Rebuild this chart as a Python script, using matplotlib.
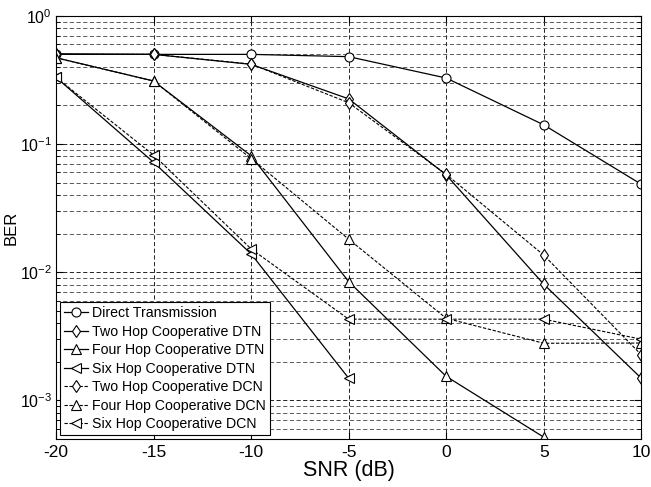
import matplotlib
matplotlib.use("Agg")
import matplotlib.pyplot as plt
from matplotlib.ticker import LogLocator, NullFormatter

plt.rcParams['font.family'] = ['Liberation Sans', 'DejaVu Sans']
plt.rcParams['axes.unicode_minus'] = False

# ---- data ----
snr = [-20, -15, -10, -5, 0, 5, 10]

direct = [0.505, 0.5, 0.5, 0.48, 0.327, 0.141, 0.0485]

two_dtn = [0.5, 0.5, 0.418, 0.225, 0.0574, 0.00806, 0.00149]
four_dtn = [0.471, 0.31, 0.081, 0.00845, 0.00154, 0.000517]
six_dtn = [0.331, 0.072, 0.0139, 0.00149]

two_dcn = [0.5, 0.5, 0.42, 0.21, 0.058, 0.0136, 0.00227]
four_dcn = [0.47, 0.31, 0.077, 0.0181, 0.00437, 0.00279, 0.0028]
six_dcn = [0.331, 0.082, 0.0152, 0.0043, 0.0043, 0.0043, 0.003]

labels = ['Direct Transmission',
          'Two Hop Cooperative DTN', 'Four Hop Cooperative DTN', 'Six Hop Cooperative DTN',
          'Two Hop Cooperative DCN', 'Four Hop Cooperative DCN', 'Six Hop Cooperative DCN']

fig = plt.figure(figsize=(6.51, 4.87), dpi=100)
ax = fig.add_axes([0.086, 0.0986, 0.899, 0.869])

solid = dict(color='black', linewidth=0.9, markerfacecolor='white',
             markeredgecolor='black', markeredgewidth=0.8, markersize=6.5)
dashed = dict(solid, linestyle=(0, (3, 1.5)), linewidth=0.8)

ax.semilogy(snr, direct, marker='o', label=labels[0], **solid)
ax.semilogy(snr[:len(two_dtn)], two_dtn, marker='d', label=labels[1], **solid)
ax.semilogy(snr[:len(four_dtn)], four_dtn, marker='^', label=labels[2], **solid)
ax.semilogy(snr[:len(six_dtn)], six_dtn, marker='<', label=labels[3], **solid)
ax.semilogy(snr, two_dcn, marker='d', label=labels[4], **dashed)
ax.semilogy(snr, four_dcn, marker='^', label=labels[5], **dashed)
ax.semilogy(snr, six_dcn, marker='<', label=labels[6], **dashed)

ax.set_xlim(-20, 10)
ax.set_ylim(5e-4, 1)
ax.set_xticks([-20, -15, -10, -5, 0, 5, 10])
ax.yaxis.set_major_locator(LogLocator(base=10, numticks=10))
ax.yaxis.set_minor_locator(LogLocator(base=10, subs=range(2, 10), numticks=20))
ax.yaxis.set_minor_formatter(NullFormatter())

ax.grid(True, which='major', axis='both', color='black', linestyle=(0, (5, 3)), linewidth=0.6)
ax.grid(True, which='minor', axis='y', color='0.25', linestyle=(0, (5, 3)), linewidth=0.6)

ax.tick_params(which='both', direction='in', top=True, right=True, length=5)
ax.tick_params(axis='x', labelsize=12.5, pad=4)
ax.tick_params(axis='y', labelsize=11.5, pad=3)
ax.tick_params(which='minor', length=3)
for s in ax.spines.values():
    s.set_linewidth(0.8)

ax.set_xlabel('SNR (dB)', fontsize=15.5, labelpad=0)
ax.set_ylabel('BER', fontsize=12, labelpad=1)

leg = ax.legend(loc='lower left', fontsize=10.2, handlelength=1.7, handletextpad=0.3,
                labelspacing=0.32, borderpad=0.3, borderaxespad=0.25, fancybox=False,
                framealpha=1, edgecolor='black')
leg.get_frame().set_linewidth(0.8)

fig.savefig('out.png', dpi=100)
